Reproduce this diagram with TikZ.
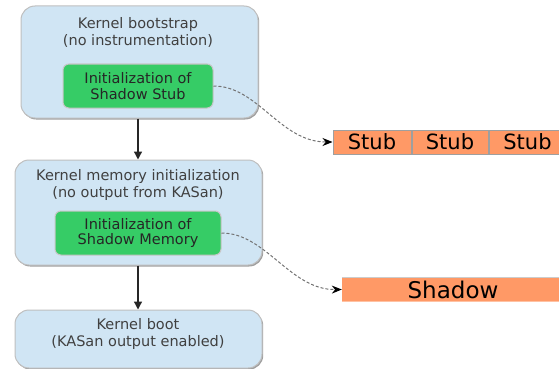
\documentclass[tikz,border=0pt]{standalone}
\usepackage{fontspec}
\setmainfont{DejaVu Sans}
\usetikzlibrary{arrows.meta,shadows}
\definecolor{boxblue}{HTML}{D0E5F4}
\definecolor{boxgreen}{HTML}{36CC66}
\definecolor{cellorange}{HTML}{FF9966}
\begin{document}
\begin{tikzpicture}[x=1pt,y=-1pt,
  outerbox/.style={draw=gray!50, fill=boxblue, rounded corners=14pt, line width=1pt, inner sep=0pt,
    drop shadow={shadow xshift=1.2pt, shadow yshift=-1.5pt, fill=gray!75, opacity=1}},
  greenbox/.style={draw=gray!45, fill=boxgreen, rounded corners=6pt, line width=1pt, inner sep=0pt,
    minimum height=44pt, align=center, text=black!85, font=\fontsize{14.5}{15.5}\selectfont},
  boxlabel/.style={align=center, inner sep=0pt, text=black!75, font=\fontsize{14.5}{17}\selectfont},
  cell/.style={draw=gray!75, fill=cellorange, line width=1pt, inner sep=0pt, minimum height=24pt,
    font=\fontsize{21}{21}\selectfont},
  flow/.style={-{Triangle[length=8pt,width=8pt]}, line width=1.3pt, black!85},
  link/.style={densely dashed, black!55, line width=1pt, -{Stealth[length=10pt,width=8pt,black]}}]
\useasboundingbox (0,0) rectangle (559,369);

% box 1
\node[outerbox, minimum width=237pt, minimum height=112pt] (b1) at (139.5,62) {};
\node[boxlabel] (t1) at (138,32) {Kernel bootstrap\\(no instrumentation)};
\node[greenbox, minimum width=150pt] (g1) at (138,86) {Initialization of\\Shadow Stub};

% box 2
\node[outerbox, minimum width=247pt, minimum height=105pt] (b2) at (138.5,212.5) {};
\node[boxlabel] (t2) at (138,185) {Kernel memory initialization\\(no output from KASan)};
\node[greenbox, minimum width=166pt] (g2) at (138,233) {Initialization of\\Shadow Memory};

% box 3
\node[outerbox, minimum width=247pt, minimum height=58pt] (b3) at (138.5,339) {};
\node[boxlabel] (t3) at (138,333.5) {Kernel boot\\(KASan output enabled)};

% vertical arrows
\draw[flow] (b1.south -| g1.south) -- (b2.north -| g1.south);
\draw[flow] (b2.south -| g2.south) -- (b3.north -| g2.south);

% stub cells
\node[cell, minimum width=78pt] (s1) at (372,142) {Stub};
\node[cell, minimum width=76pt, anchor=west] (s2) at (s1.east) {Stub};
\node[cell, minimum width=77pt, anchor=west] (s3) at (s2.east) {Stub};

% shadow bar
\node[draw=none, fill=cellorange, inner sep=0pt, minimum width=222pt, minimum height=23pt,
  font=\fontsize{23}{23}\selectfont] (sh) at (453,289.5) {Shadow};
\draw[gray!40, line width=1pt] (sh.north west) -- (sh.north east);
\draw[cellorange!60, line width=1pt] (sh.south west) -- (sh.south east);

% links
\draw[link] (g1.east) .. controls (258,86) and (280,142) .. (s1.west);
\draw[link] (g2.east) .. controls (266,233) and (290,290) .. (sh.west);
\end{tikzpicture}
\end{document}
